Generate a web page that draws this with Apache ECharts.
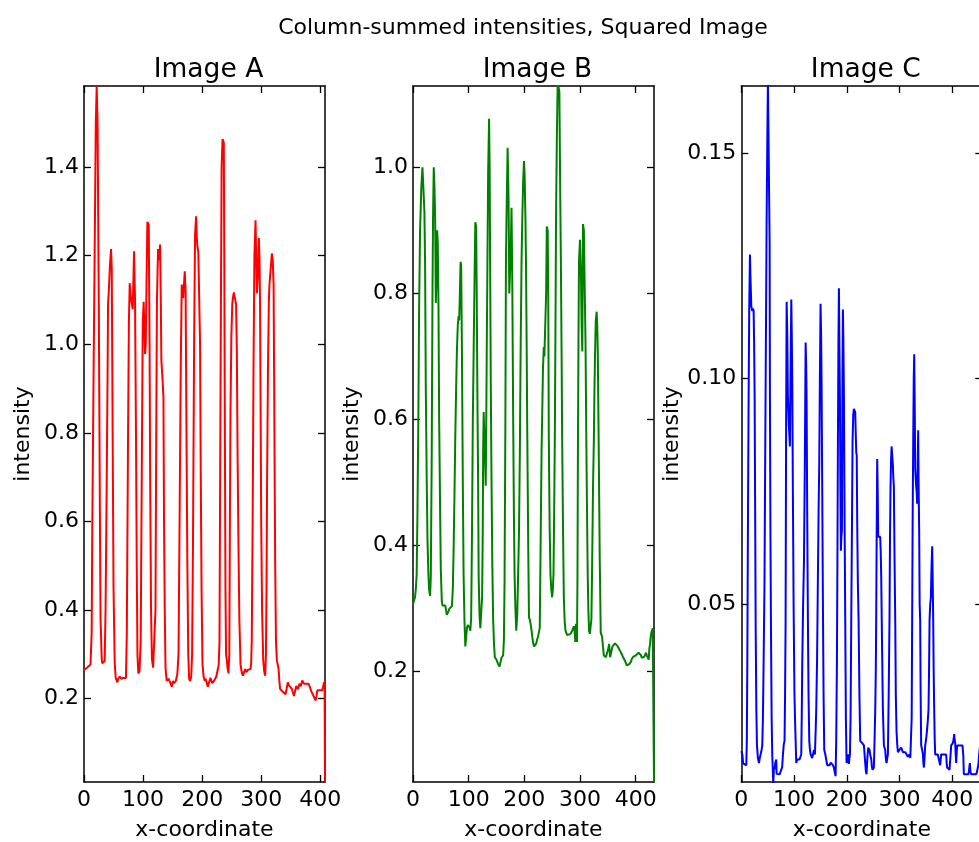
<!DOCTYPE html>
<html>
<head>
<meta charset="utf-8">
<script src="https://cdn.jsdelivr.net/npm/echarts@6/dist/echarts.min.js"></script>
<style>
html,body{margin:0;padding:0;background:#fff;}
#chart{width:979px;height:842px;}
</style>
</head>
<body>
<div id="chart"></div>
<script>
// ---------- data ----------
const suptitle = "Column-summed intensities, Squared Image";
const panelTitles = ["Image A", "Image B", "Image C"];
const xLabel = "x-coordinate";
const yLabel = "intensity";

const xTicksA = [0, 100, 200, 300, 400];
const xTicksB = [0, 100, 200, 300, 400];
const xTicksC = [0, 100, 200, 300, 400];
const yTicksA = [0.2, 0.4, 0.6, 0.8, 1.0, 1.2, 1.4];
const yTicksB = [0.2, 0.4, 0.6, 0.8, 1.0];
const yTicksC = [0.05, 0.10, 0.15];

const xRangeA = [0, 408];
const yRangeA = [0.012, 1.583];
const xRangeB = [0, 433];
const yRangeB = [0.025, 1.129];
const xRangeC = [0, 457];
const yRangeC = [0.0107, 0.1648];

const seriesColors = ["#ff0000", "#008000", "#0000ff"];

const xA = [0,5,11,13,14,16,18,20,21.5,23,25,27,28,30,31,33,35,36.5,38.4,40,40.7,42,44,45.8,47,48.5,50,52,53.7,56.5,58,60.5,63,66.7,71,72.5,74.6,76,77.4,79,80,82.5,84.7,86.4,88,89.3,90.5,92,94,96,98,99.5,101,102,103.4,104.5,106,107.3,109.6,111,112,113.5,115,117,119.8,121,122.5,123.5,125.4,127,128.8,130,131,133,134.5,135.5,136.7,138,140,143,145.8,148.6,150.5,152.5,155.4,158,160,161.5,163.8,165.5,166.5,167.8,169,170.6,172,173.5,175,176.5,178,179.7,181.5,183,184.5,186.4,188,189.8,191,192,193.5,195,196.5,197.7,199,200.6,202.5,204.5,206,209.6,214,217,220,222,224,226.6,228,229.4,230.5,232,233,234.5,236.7,237.5,238.5,239.5,240.5,241.8,243,244.6,246,247,248,249.5,251,252,253.7,256.5,257.5,258.8,260,261.5,263,265,267,269,271,272.9,275,277.5,280,281.9,283,284,285.5,287,288.5,290.4,291.5,292.7,294,296,297,298,299,300,301.5,303.4,305,306.8,308,309,310,311.5,313,314,316,318,319.5,321,322,323,323.7,325,326.5,327.5,329.4,331,332,335.6,338.4,341.2,343,345,347,349.7,352,355.4,357,359.3,362,365,367,369.5,372.3,374,376,378,380,382,384.7,387,390.4,392,393.5,395,399,402.8,404.5,406.2,407.3,408];
const yA = [0.265,0.27,0.277,0.35,0.58,0.9,1.2,1.5,1.583,1.5,1.1,0.6,0.38,0.29,0.28,0.278,0.285,0.4,0.68,0.95,1.09,1.12,1.18,1.215,1.17,0.8,0.45,0.28,0.247,0.237,0.245,0.25,0.245,0.247,0.247,0.35,0.8,1.05,1.138,1.11,1.1,1.079,1.21,1.1,0.8,0.5,0.3,0.257,0.262,0.33,0.75,1.05,1.096,1.05,0.978,1.0,1.15,1.276,1.27,1.0,0.7,0.4,0.29,0.27,0.267,0.4,0.85,1.1,1.215,1.19,1.225,1.1,0.963,0.92,0.88,0.6,0.4,0.27,0.24,0.245,0.237,0.227,0.24,0.235,0.24,0.255,0.3,0.55,0.95,1.135,1.12,1.104,1.13,1.165,1.12,0.8,0.5,0.3,0.245,0.24,0.25,0.3,0.55,1.0,1.246,1.289,1.24,1.22,1.21,1.213,1.0,0.7,0.45,0.277,0.25,0.24,0.245,0.227,0.247,0.235,0.24,0.237,0.25,0.267,0.275,0.33,0.7,1.15,1.4,1.463,1.455,1.2,0.8,0.45,0.3,0.287,0.27,0.257,0.3,0.6,0.85,1.02,1.09,1.104,1.117,1.117,1.09,0.98,0.75,0.55,0.38,0.277,0.26,0.252,0.26,0.267,0.26,0.265,0.262,0.267,0.28,0.33,0.6,0.95,1.2,1.28,1.2,1.115,1.15,1.24,1.2,1.1,0.85,0.6,0.4,0.287,0.262,0.252,0.3,0.45,0.7,0.95,1.1,1.135,1.17,1.205,1.19,1.135,0.9,0.65,0.5,0.33,0.287,0.28,0.267,0.235,0.222,0.217,0.217,0.21,0.222,0.237,0.23,0.227,0.222,0.206,0.215,0.229,0.222,0.234,0.228,0.241,0.234,0.232,0.234,0.236,0.234,0.228,0.217,0.216,0.201,0.196,0.205,0.219,0.219,0.219,0.225,0.237,0.23,0.0125];

const xB = [0,2,3.6,5,6.6,8,9.6,11,12.7,15,17,19.3,20.5,21.7,23,24.7,26,27.7,29,30.7,32,33.7,35,36,37.3,38.5,39.8,41,42,43.4,44.5,45.8,47,48.8,50,51.8,53,54.8,56,58,60.8,62.5,63.9,65.5,66.9,68.5,69.9,71.5,72.9,74.5,75.9,77.5,78.9,80.5,81.9,83,84.2,85.5,86.5,87.9,89.5,90.9,92.5,94,95.5,97,98.5,100,101.5,103,104.5,106,107.5,109,110.5,112,113.5,114.5,115.7,117,118,119.5,121,123,124.2,125.3,126,127,129.5,130.7,131.5,132.5,134,135,136.7,137.7,138.5,139.8,141,142.5,144,145.5,147,148.5,150,151.5,153,155.4,157,159,160.5,162,163.3,164.5,166,167,168,170,171.7,173,174.2,175.3,177,178.3,180,181.3,182.5,184,185.5,187.3,188.8,190.4,192,193.4,195,196.4,198,199.4,200.5,202,203,204.2,205.4,207,208.4,210,211.4,213,214.5,216,217.5,219,220,221.5,223,224.5,226,227.7,228.7,229.5,231,232,233.5,235,236,237,238,239.2,240.4,242,243,244,245.5,247,248.5,250,251.2,252.4,253.6,254.8,256,257,258.5,260,262,263,264.3,265.7,267,268,269.5,271,272.5,274,277,280,283,286,287.5,289,290.3,291.6,292.8,293.7,294.6,295.5,296.4,297.3,298.2,300,301.8,303,304.2,305.4,307,309,310,311.4,312.7,313.9,315,316.3,317.8,319.3,320.5,321.6,323.5,325,325.9,327,328.3,330,331,332,333.2,334.3,335.5,337.3,338.5,339.8,341.3,342.8,344.5,346.4,348.5,350.5,352.4,354.2,356.6,358.4,360,361.4,363,364.5,366,368,370.5,372,373.5,375,376.5,378,379.5,381,382.5,384,385.5,387,388.6,390,391.6,393,394.6,396,397.6,399,400.6,403,405.4,407.5,409.6,411,412.7,414,415.7,417,418.7,420,421.7,423.5,424.5,425.9,427,428.3,429.5,430.7,432,433];
const yB = [0.307,0.31,0.318,0.33,0.354,0.45,0.6,0.78,0.9,0.97,1.0,0.998,0.93,0.85,0.65,0.5,0.41,0.354,0.33,0.32,0.35,0.55,0.8,0.92,1.0,0.97,0.92,0.785,0.82,0.9,0.88,0.78,0.6,0.45,0.36,0.311,0.305,0.304,0.302,0.305,0.29,0.29,0.296,0.3,0.3,0.3,0.304,0.33,0.39,0.48,0.57,0.65,0.71,0.75,0.764,0.757,0.8,0.85,0.845,0.71,0.5,0.354,0.28,0.24,0.255,0.27,0.274,0.276,0.27,0.265,0.285,0.42,0.6,0.71,0.82,0.913,0.905,0.8,0.64,0.5,0.35,0.29,0.269,0.27,0.32,0.42,0.55,0.612,0.612,0.495,0.58,0.71,0.88,0.99,1.077,1.0,0.86,0.65,0.51,0.37,0.283,0.245,0.223,0.225,0.219,0.22,0.212,0.208,0.214,0.222,0.224,0.226,0.25,0.34,0.6,0.85,0.92,1.031,0.95,0.8,0.83,0.85,0.936,0.83,0.6,0.45,0.354,0.3,0.265,0.29,0.35,0.42,0.55,0.71,0.85,0.92,0.98,1.01,0.99,0.92,0.85,0.72,0.57,0.4,0.286,0.282,0.275,0.265,0.254,0.245,0.24,0.242,0.239,0.245,0.251,0.255,0.255,0.269,0.35,0.42,0.55,0.6,0.68,0.715,0.7,0.7,0.7,0.8,0.906,0.9,0.8,0.57,0.43,0.354,0.33,0.318,0.33,0.354,0.45,0.57,0.75,0.92,1.05,1.135,1.135,1.12,0.98,0.85,0.7,0.57,0.43,0.318,0.28,0.265,0.258,0.255,0.26,0.265,0.262,0.272,0.265,0.247,0.276,0.26,0.247,0.35,0.57,0.72,0.85,0.885,0.828,0.75,0.708,0.91,0.9,0.78,0.72,0.57,0.45,0.354,0.3,0.265,0.26,0.258,0.283,0.35,0.496,0.57,0.64,0.7,0.756,0.771,0.75,0.708,0.6,0.496,0.38,0.262,0.26,0.255,0.24,0.226,0.225,0.223,0.226,0.235,0.244,0.223,0.226,0.24,0.242,0.242,0.245,0.244,0.242,0.24,0.237,0.233,0.23,0.228,0.226,0.222,0.219,0.217,0.214,0.21,0.208,0.21,0.212,0.214,0.216,0.22,0.223,0.224,0.226,0.226,0.226,0.228,0.23,0.228,0.226,0.222,0.219,0.222,0.224,0.226,0.23,0.226,0.223,0.219,0.235,0.244,0.255,0.262,0.265,0.269,0.27,0.025];

const xC = [0,2,3.5,5,9.5,10.5,11.4,12.7,13.9,15,16.4,17.5,19,20.8,22,23.4,24.3,25.3,26.3,27.2,28.5,29.7,31.5,33.5,35,36.6,38,39.8,41,42.3,44,45.5,47,48,49.5,50.5,53,53.7,54.3,55.3,56.2,57.5,58.7,60.6,62,63,64.5,66.3,67,68.2,72.6,75.8,77.5,79,80.5,82,83,84,85,86,87.2,88.4,90,92.2,93.3,94.8,95.7,96.6,97.8,99.2,100.8,102.3,104.2,106,107.4,109,110.5,112,113.7,114.6,115.6,117.2,118.8,120.4,122,123,123.8,125,126.3,127.5,128.9,130,131.4,133,134.5,135.8,137.7,139.6,141,142.1,143.7,145.3,146.5,147.8,149,150.3,151.3,152.2,153.5,154.8,156,157.3,159,161,163,165,167.4,169.5,171.8,173.5,175.6,177,178.8,180,181.3,182.3,183.2,184.2,185.1,186,187,188,188.9,189.8,190.8,191.8,192.7,193.6,194.6,195.8,197.1,198.3,199.6,201,202.1,203,204,205,206,207.2,208.5,209.7,211,212.3,213.5,214.8,216,217,218,218.9,219.8,221,222.4,224,225.5,227,229.3,231,232.5,234,235,236.3,237.5,239,240.7,242,243.2,244.8,246.4,247.7,248.9,250,251.4,252.7,254,255,255.8,256.7,257.7,258.7,259.6,261.5,263.4,264.3,265.3,267,268.5,270.4,271.7,272.9,274,275.4,276.7,278,279.5,281,282,283,284,285,286.2,287.4,288.3,289.3,290.6,291.9,293,294.4,295.7,297,298.5,300,301.6,303.2,304.8,306.4,308,309.5,311,312.7,314.3,315.9,317.4,319,320.5,322.2,323.1,324,325,326,327,327.9,328.8,329.8,330.7,331.6,332.5,333.5,334.4,335.4,336.4,337.3,338.2,339.2,340.1,341.1,342.7,344.3,345.3,346.2,347.5,348.7,350.3,351.9,353.5,355,356,357,358.2,359.4,360.7,362,363,363.9,364.8,365.8,366.8,367.7,370,372.7,374.5,376,377.1,379,380.5,382.2,384,386,388.5,389.4,390.4,392.5,394.8,396.4,398,399.5,401.1,402.4,403.7,404.6,405.6,406.5,407.5,408.4,409.3,411.9,414.5,417,419.5,421,422,424,426.4,428.5,430.8,432,433.4,434.5,435.9,438,441,443,445.4,447,448.5,450,451,453,455,457];
const yC = [0.0175,0.0168,0.0148,0.0144,0.0144,0.02,0.037,0.07,0.096,0.115,0.1275,0.122,0.116,0.115,0.1155,0.115,0.108,0.096,0.07,0.046,0.027,0.0188,0.016,0.0149,0.016,0.0168,0.0175,0.0188,0.025,0.037,0.055,0.086,0.115,0.135,0.155,0.166,0.166,0.13,0.096,0.065,0.046,0.025,0.0168,0.0104,0.014,0.0135,0.015,0.0157,0.0125,0.0124,0.0124,0.0124,0.014,0.0168,0.019,0.0198,0.03,0.046,0.09,0.117,0.11,0.096,0.09,0.085,0.1,0.1175,0.11,0.0995,0.075,0.0495,0.03,0.0228,0.0149,0.0157,0.0158,0.0155,0.0157,0.016,0.0168,0.025,0.037,0.05,0.0594,0.08,0.108,0.103,0.096,0.07,0.0465,0.03,0.0198,0.018,0.0168,0.017,0.016,0.0158,0.0178,0.0168,0.022,0.0267,0.038,0.0564,0.07,0.081,0.1,0.1166,0.11,0.0995,0.075,0.0495,0.03,0.0178,0.017,0.0168,0.0144,0.0144,0.0144,0.015,0.0149,0.0145,0.0139,0.013,0.012,0.02,0.0366,0.06,0.0861,0.108,0.12,0.108,0.0961,0.075,0.0619,0.065,0.0663,0.1,0.1153,0.108,0.0961,0.07,0.0466,0.025,0.0149,0.016,0.0168,0.016,0.0147,0.016,0.0168,0.025,0.0466,0.065,0.0862,0.092,0.0933,0.093,0.0926,0.088,0.0837,0.083,0.0684,0.055,0.0466,0.03,0.0198,0.0195,0.0193,0.0192,0.0188,0.0165,0.0149,0.013,0.0124,0.016,0.0183,0.0183,0.0178,0.0165,0.0158,0.014,0.0134,0.0134,0.0139,0.02,0.0267,0.035,0.0465,0.065,0.0822,0.075,0.065,0.065,0.065,0.062,0.0564,0.04,0.0267,0.0188,0.019,0.0178,0.016,0.0149,0.016,0.0168,0.03,0.0465,0.065,0.0762,0.082,0.085,0.083,0.081,0.078,0.0762,0.06,0.0466,0.03,0.0218,0.019,0.0173,0.0175,0.0178,0.018,0.0183,0.018,0.0173,0.0175,0.0173,0.0173,0.0173,0.017,0.0163,0.0165,0.0168,0.016,0.0158,0.025,0.0466,0.07,0.0861,0.1,0.1054,0.095,0.08,0.078,0.0762,0.075,0.0723,0.08,0.0886,0.075,0.0663,0.05,0.0466,0.03,0.0188,0.018,0.0168,0.015,0.0139,0.016,0.0188,0.02,0.0218,0.024,0.0267,0.035,0.0466,0.05,0.0515,0.058,0.0629,0.055,0.0466,0.035,0.0267,0.02,0.0168,0.017,0.0168,0.0168,0.0168,0.0144,0.0168,0.017,0.0168,0.0168,0.0168,0.0168,0.015,0.0139,0.0139,0.0134,0.016,0.0188,0.019,0.0193,0.02,0.0213,0.02,0.0193,0.017,0.0149,0.017,0.0188,0.0188,0.0188,0.0188,0.0188,0.0165,0.0124,0.0124,0.0124,0.0124,0.0124,0.0135,0.0149,0.013,0.0124,0.0124,0.0124,0.0124,0.0124,0.013,0.0139,0.015,0.0168,0.019,0.022,0.024];

// ---------- build ----------
const FONT = "DejaVu Sans";
const layout = [
  {left: 84, top: 86, width: 241, height: 696},
  {left: 413, top: 86, width: 241, height: 696},
  {left: 741.3, top: 86, width: 241, height: 696}
];
const xs = [xA, xB, xC], ys = [yA, yB, yC];
const xRanges = [xRangeA, xRangeB, xRangeC];
const yRanges = [yRangeA, yRangeB, yRangeC];
const xTicks = [xTicksA, xTicksB, xTicksC];
const yTicks = [yTicksA, yTicksB, yTicksC];
const yFmt = [v => v.toFixed(1), v => v.toFixed(1), v => v.toFixed(2)];

const lineStyle = {color: "#000", width: 1.5};
const tickStyle = {color: "#000", width: 1.3};

const grid = [], xAxis = [], yAxis = [], series = [];
const titles = [{
  text: suptitle, left: 518, top: 12,
  textStyle: {fontFamily: FONT, fontSize: 22, fontWeight: "normal", color: "#000"}
}];

for (let i = 0; i < 3; i++) {
  grid.push(Object.assign({containLabel: false, outerBoundsMode: "none", show: false}, layout[i]));
  titles.push({
    text: panelTitles[i], left: layout[i].left + layout[i].width / 2 - 1, top: 52,
    textStyle: {fontFamily: FONT, fontSize: 26.5, fontWeight: "normal", color: "#000"}
  });
}
titles.forEach(t => { t.textAlign = "center"; });

for (let i = 0; i < 3; i++) {
  xAxis.push({
    gridIndex: i, type: "value", position: "bottom",
    min: xRanges[i][0], max: xRanges[i][1],
    axisLine: {show: true, onZero: false, lineStyle},
    axisTick: {show: true, inside: true, length: 7, lineStyle: tickStyle, customValues: xTicks[i]},
    axisLabel: {show: true, margin: 7, customValues: xTicks[i], formatter: v => String(Math.round(v)),
      fontFamily: FONT, fontSize: 22, color: "#000", hideOverlap: false},
    splitLine: {show: false},
    name: xLabel, nameLocation: "middle", nameGap: 37,
    nameTextStyle: {fontFamily: FONT, fontSize: 22, color: "#000"}
  });
}
for (let i = 0; i < 3; i++) {
  xAxis.push({
    gridIndex: i, type: "value", position: "top",
    min: xRanges[i][0], max: xRanges[i][1],
    axisLine: {show: true, onZero: false, lineStyle},
    axisTick: {show: true, inside: true, length: 7, lineStyle: tickStyle, customValues: xTicks[i]},
    axisLabel: {show: false}, splitLine: {show: false}
  });
}
for (let i = 0; i < 3; i++) {
  yAxis.push({
    gridIndex: i, type: "value", position: "left",
    min: yRanges[i][0], max: yRanges[i][1],
    axisLine: {show: true, onZero: false, lineStyle},
    axisTick: {show: true, inside: true, length: 7, lineStyle: tickStyle, customValues: yTicks[i]},
    axisLabel: {show: true, margin: 5, customValues: yTicks[i], formatter: yFmt[i],
      fontFamily: FONT, fontSize: 22, color: "#000", hideOverlap: false},
    splitLine: {show: false},
    name: yLabel, nameLocation: "middle", nameGap: 50, nameRotate: 90,
    nameTextStyle: {fontFamily: FONT, fontSize: 22, color: "#000"}
  });
}
for (let i = 0; i < 3; i++) {
  yAxis.push({
    gridIndex: i, type: "value", position: "right",
    min: yRanges[i][0], max: yRanges[i][1],
    axisLine: {show: true, onZero: false, lineStyle},
    axisTick: {show: true, inside: true, length: 7, lineStyle: tickStyle, customValues: yTicks[i]},
    axisLabel: {show: false}, splitLine: {show: false}
  });
}
for (let i = 0; i < 3; i++) {
  const d = xs[i].map((x, k) => [x, ys[i][k]]);
  series.push({
    type: "line", xAxisIndex: i, yAxisIndex: i, data: d,
    showSymbol: false, symbol: "none", smooth: false, clip: true,
    lineStyle: {color: seriesColors[i], width: 2}, itemStyle: {color: seriesColors[i]},
    animation: false, silent: true
  });
}

const chart = echarts.init(document.getElementById("chart"), null, {renderer: "canvas"});
chart.setOption({
  backgroundColor: "#fff",
  animation: false,
  title: titles,
  grid, xAxis, yAxis, series
});
</script>
</body>
</html>
